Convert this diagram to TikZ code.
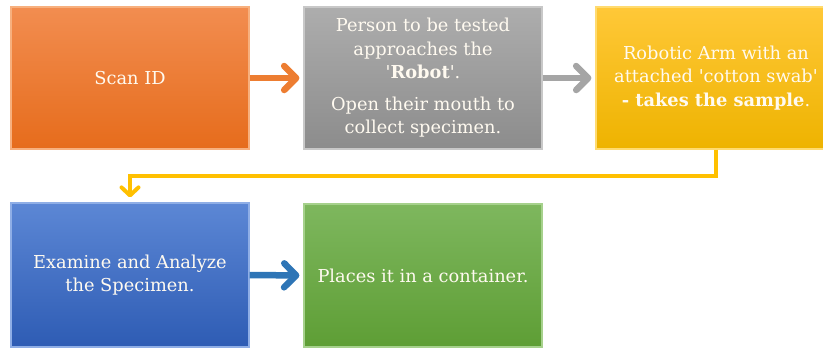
\documentclass[tikz,border=0pt]{standalone}
\usepackage{fontspec}
\newfontfamily\boxfont{DejaVu Serif}
\usetikzlibrary{arrows.meta}
\definecolor{orA}{HTML}{F28D50}
\definecolor{orB}{HTML}{E66C1C}
\definecolor{orL}{HTML}{F7B07E}
\definecolor{gyA}{HTML}{ADADAD}
\definecolor{gyB}{HTML}{8C8C8C}
\definecolor{gyL}{HTML}{C8C8C8}
\definecolor{ylA}{HTML}{FFC838}
\definecolor{ylB}{HTML}{EEB300}
\definecolor{ylL}{HTML}{FFDB70}
\definecolor{blA}{HTML}{5C87D5}
\definecolor{blB}{HTML}{2E5CB4}
\definecolor{blL}{HTML}{8FAEE6}
\definecolor{grA}{HTML}{7EB75E}
\definecolor{grB}{HTML}{5E9E35}
\definecolor{grL}{HTML}{A6D18C}
\definecolor{arOr}{HTML}{ED7D31}
\definecolor{arGy}{HTML}{A5A5A5}
\definecolor{arBl}{HTML}{2E75B6}
\definecolor{arYl}{HTML}{FFC000}
\definecolor{txt}{HTML}{FFFAF0}
\tikzset{
  stepbox/.style={rectangle, minimum width=238pt, minimum height=142pt,
    inner sep=4pt, line width=1.2pt, align=center, text=txt,
    font=\boxfont\fontsize{17.8}{23.5}\selectfont},
  bigarrow/.style={line width=6.5pt, shorten >=4pt,
    -{Straight Barb[length=12pt,width=24pt,line cap=round,line join=round]}},
  thinarrow/.style={line width=4pt, arYl, shorten >=5pt,
    -{Straight Barb[length=8pt,width=17pt,line cap=round,line join=round]}}
}
\begin{document}
\begin{tikzpicture}[x=1pt,y=-1pt]
\useasboundingbox (0,0) rectangle (823,349);
\clip (0,0) rectangle (823,349);
\node[stepbox, top color=orA, bottom color=orB, draw=orL] (b1) at (130,78) {Scan ID};
\node[stepbox, top color=gyA, bottom color=gyB, draw=gyL] (b2) at (423,78)
  {Person to be tested\\approaches the\\'\textbf{Robot}'.\\[8pt]Open their mouth to\\collect specimen.};
\node[stepbox, top color=ylA, bottom color=ylB, draw=ylL, minimum width=240pt] (b3) at (716,78)
  {Robotic Arm with an\\attached 'cotton swab'\\\textbf{- takes the sample}.};
\node[stepbox, top color=blA, bottom color=blB, draw=blL, minimum height=144pt] (b4) at (130,275)
  {Examine and Analyze\\the Specimen.};
\node[stepbox, top color=grA, bottom color=grB, draw=grL, minimum height=143pt] (b5) at (423,275.5)
  {Places it in a container.};
\draw[bigarrow, arOr] (b1.east) -- (b2.west);
\draw[bigarrow, arGy] (b2.east) -- (b3.west);
\draw[bigarrow, arBl] (b4.east) -- (b5.west);
\draw[thinarrow] (b3.south) -- ++(0,26) -| (b4.north);
\end{tikzpicture}
\end{document}
